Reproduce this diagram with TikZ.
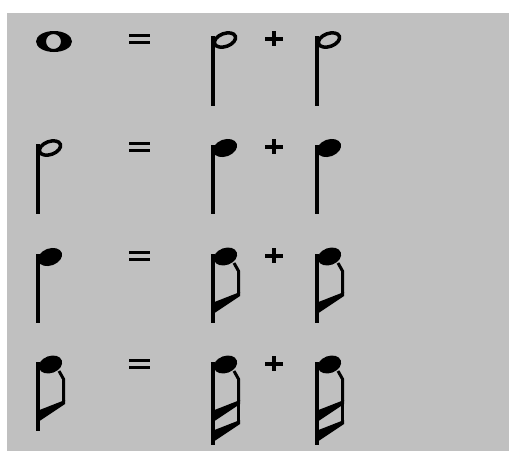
\documentclass[tikz,border=0pt]{standalone}
\usepackage{tikz}

\definecolor{bggray}{RGB}{192,192,192}

\tikzset{
  stem/.style={fill=black},
  wholenote/.pic={
    \fill[even odd rule] (18,10.5) ellipse (18 and 10.5) (17.5,10.5) ellipse (7.5 and 7.5);
  },
  halfnote/.pic={
    \fill[stem] (0,5) rectangle (3.5,75);
    \draw[line width=3.5,rotate around={20:(14,9)}] (14,9) ellipse (11 and 6.5);
  },
  quarternote/.pic={
    \fill[stem] (0,6) rectangle (3.5,75);
    \fill[rotate around={20:(14,9)}] (14,9) ellipse (12.5 and 8.5);
  },
  eighthnote/.pic={
    \fill[stem] (0,6) rectangle (3.5,75);
    \fill[rotate around={20:(14.5,8.5)}] (14.5,8.5) ellipse (12 and 8.5);
    \draw[line width=3] (23,15) -- (27.5,23) -- (27.5,45);
    \fill (29,44) -- (29,48) -- (3.5,65) -- (3.5,54) -- cycle;
  },
  sixteenthnote/.pic={
    \pic {eighthnote};
    \fill[stem] (0,70) rectangle (3.5,89);
    \draw[line width=3] (27.5,47) -- (27.5,65);
    \fill (29,64) -- (29,68) -- (3.5,85) -- (3.5,74) -- cycle;
  },
  equalsign/.pic={
    \fill (129,3) rectangle (150,6);
    \fill (129,10) rectangle (150,13);
  },
  plussign/.pic={
    \fill (265,6) rectangle (283,10);
    \fill (272,0) rectangle (276,15);
  }
}

\begin{document}
\begin{tikzpicture}[x=1pt,y=-1pt]
  \useasboundingbox (0,0) rectangle (509,451);
  \fill[white] (0,0) rectangle (509,451);
  \fill[bggray] (7,13) rectangle (509,451);
  % signs in every row
  \foreach \y in {31,139,248,356} {
    \pic at (0,\y) {equalsign};
    \pic at (0,\y) {plussign};
  }
  % whole = half + half
  \pic at (36,31) {wholenote};
  \pic at (211,31) {halfnote};
  \pic at (315,31) {halfnote};
  % half = quarter + quarter
  \pic at (36,139) {halfnote};
  \pic at (211,139) {quarternote};
  \pic at (315,139) {quarternote};
  % quarter = eighth + eighth
  \pic at (36,248) {quarternote};
  \pic at (211,248) {eighthnote};
  \pic at (315,248) {eighthnote};
  % eighth = sixteenth + sixteenth
  \pic at (36,356) {eighthnote};
  \pic at (211,356) {sixteenthnote};
  \pic at (315,356) {sixteenthnote};
\end{tikzpicture}
\end{document}
